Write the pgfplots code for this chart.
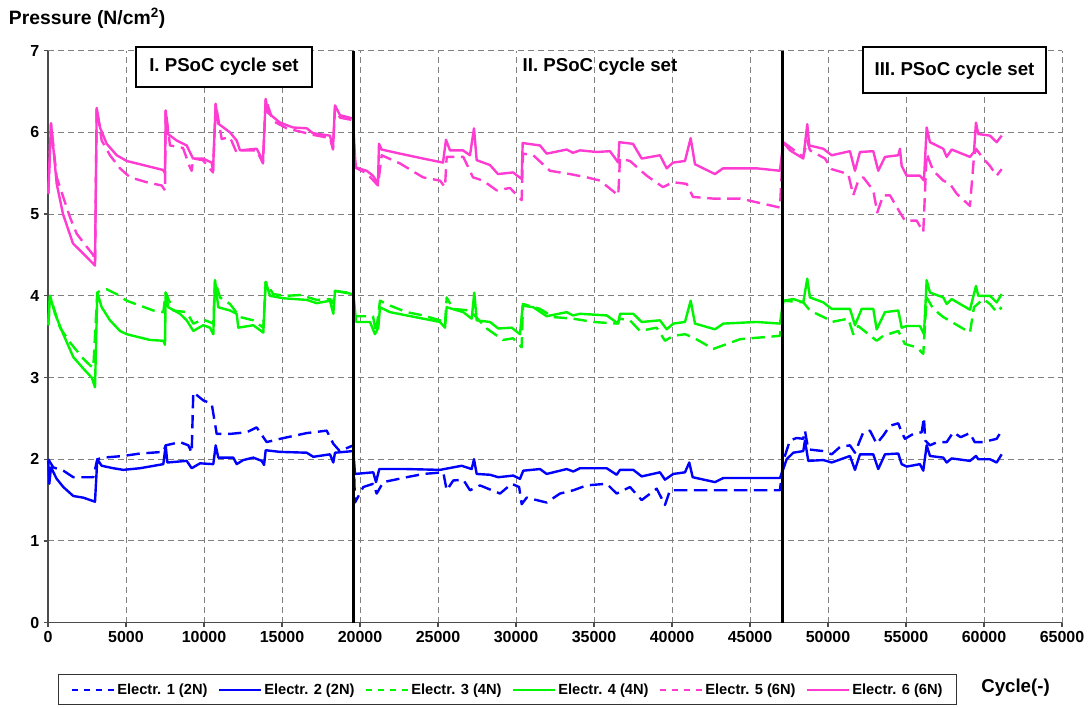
\documentclass[border=0pt]{standalone}
\usepackage{fontspec}
\setmainfont{Liberation Sans}
\usepackage{pgfplots}
\pgfplotsset{compat=1.18}
\definecolor{eblue}{RGB}{0,0,255}
\definecolor{egreen}{RGB}{0,245,0}
\definecolor{epink}{RGB}{255,60,210}
\begin{document}
\begin{tikzpicture}
\path[use as bounding box] (0,0) rectangle (816.75bp,531bp);
\begin{axis}[
 at={(36bp,64bp)}, anchor=south west,
 scale only axis, width=760.5bp, height=429bp,
 xmin=0, xmax=65000, ymin=0, ymax=7,
 xtick={0,5000,...,65000}, ytick={0,1,...,7},
 scaled x ticks=false,
 /pgf/number format/1000 sep={},
 /pgf/number format/assume math mode=true,
 axis lines=left, axis line style={-, draw=black!70, line width=1.2bp},
 tick style={draw=black!70, line width=1bp}, tick align=outside, major tick length=3bp,
 grid=major, grid style={draw=black!50, dash pattern=on 4.5bp off 3bp, line width=0.75bp},
 tick label style={font=\bfseries\fontsize{12bp}{14bp}\selectfont},
 clip=false,
 legend columns=6,
 legend style={at={(0.00986,-0.0906)}, anchor=north west, draw=black!80, line width=0.75bp,
   font=\bfseries\fontsize{11bp}{12.5bp}\selectfont, inner xsep=9bp, inner ysep=5bp,
   /tikz/every even column/.append style={column sep=6bp}, nodes={inner sep=1.5bp}},
 legend image code/.code={\draw[#1, line width=1.6bp] (0bp,0bp) -- (32bp,0bp);},
 every axis plot/.append style={line width=1.8bp, line join=round},
]
% Electr. 1 (2N) blue dashed
\addplot[eblue, dash pattern=on 10bp off 5bp, forget plot] coordinates {
(19,2.00) (340,1.90) (981,1.86) (1622,1.78) (2904,1.78) (3160,2.00) (3545,2.02) (4827,2.04) (5897,2.07) (7391,2.09) (7545,2.17) (8461,2.21) (8993,2.17) (9211,2.08) (9314,2.82) (9955,2.72) (10493,2.68) (10814,2.31) (11666,2.31) (12737,2.33) (13378,2.39) (13801,2.27) (14019,2.21) (14871,2.25) (16583,2.32) (17865,2.35) (18288,2.19) (18700,2.10) (19570,2.17)
(19679,1.47) (20211,1.66) (20852,1.70) (21070,1.58) (21493,1.72) (22993,1.78) (24057,1.82) (25339,1.84) (25557,1.62) (25980,1.74) (26621,1.75) (27050,1.62) (27691,1.68) (28973,1.58) (29723,1.70) (30200,1.66) (30364,1.45) (30685,1.53) (31967,1.47) (32819,1.58) (33672,1.62) (34531,1.68) (35812,1.70) (36453,1.58) (37306,1.66) (38056,1.50) (39018,1.64) (39550,1.44) (39870,1.62) (46921,1.62)
(47133,1.98) (47562,2.23) (47992,2.26) (48415,2.25) (48524,2.35) (48735,2.12) (49697,2.10) (50235,2.06) (50767,2.15) (51408,2.17) (51729,2.08) (52262,2.33) (52690,2.35) (53120,2.19) (53543,2.29) (53972,2.41) (54505,2.44) (54722,2.33) (54934,2.25) (55466,2.31) (56004,2.33) (56152,2.51) (56230,2.23) (56536,2.17) (57000,2.21) (57607,2.21) (58030,2.33) (58500,2.27) (59100,2.32) (59400,2.21) (59954,2.21) (60383,2.23) (60812,2.25) (61132,2.35)
};
% Electr. 2 (2N) blue solid
\addplot[eblue, forget plot] coordinates {
(19,1.98) (83,1.70) (192,1.90) (558,1.76) (981,1.66) (1622,1.55) (2263,1.53) (3013,1.48) (3160,2.00) (3442,1.92) (4186,1.89) (4827,1.87) (5897,1.89) (7391,1.94) (7545,2.17) (7647,1.96) (8891,1.98) (9211,1.89) (9743,1.95) (10596,1.94) (10750,2.17) (10916,2.02) (11878,2.02) (12096,1.94) (12519,1.99) (13160,2.02) (13698,1.98) (13850,1.93) (13955,2.11) (14871,2.09) (16583,2.08) (17006,2.03) (18076,2.06) (18288,1.96) (18397,2.08) (19570,2.10)
(19679,1.82) (20852,1.84) (21025,1.72) (21236,1.88) (22993,1.88) (25127,1.87) (26518,1.92) (27159,1.88) (27307,2.00) (27480,1.82) (28332,1.81) (28864,1.78) (29826,1.80) (30255,1.76) (30467,1.86) (31537,1.88) (31967,1.82) (33249,1.88) (33672,1.85) (34101,1.89) (35812,1.89) (36453,1.81) (36665,1.87) (37518,1.87) (38056,1.79) (39229,1.84) (39550,1.75) (40082,1.82) (40832,1.84) (41108,1.96) (41325,1.78) (42755,1.72) (43287,1.77) (45428,1.77) (46921,1.77)
(47133,1.88) (47351,2.00) (47774,2.08) (48415,2.10) (48524,2.23) (48735,1.98) (49697,1.99) (50235,1.96) (51408,2.04) (51729,1.87) (52050,2.06) (52902,2.06) (53222,1.88) (53652,2.06) (54505,2.07) (54722,1.94) (55043,1.91) (55895,1.94) (56107,1.86) (56325,2.17) (56536,2.04) (57389,2.02) (57607,1.96) (57927,2.01) (59100,1.98) (59485,2.04) (59633,2.00) (60383,2.00) (60812,1.96) (61132,2.06)
};
% Electr. 3 (4N) green dashed
\addplot[egreen, dash pattern=on 10bp off 5bp, forget plot] coordinates {
(19,3.64) (128,4.00) (769,3.61) (1410,3.43) (2263,3.23) (2692,3.15) (2904,3.12) (3160,4.04) (3333,4.06) (3763,4.08) (4404,4.02) (5045,3.94) (5897,3.88) (6750,3.82) (7391,3.80) (7545,4.04) (8032,3.82) (8891,3.80) (9314,3.66) (9955,3.71) (10596,3.66) (10705,4.19) (11025,3.98) (11666,3.90) (12307,3.74) (13160,3.70) (13801,3.61) (13955,4.17) (14442,4.02) (15301,4.00) (16153,4.01) (17224,3.95) (18076,3.96) (18288,3.91) (18397,4.06) (19570,4.03)
(19679,3.75) (20833,3.75) (21025,3.55) (21281,3.94) (21922,3.88) (22993,3.80) (24038,3.76) (25127,3.70) (25448,3.65) (25557,3.98) (25961,3.84) (27050,3.82) (28121,3.60) (29166,3.46) (29807,3.48) (30364,3.37) (30448,3.90) (31537,3.84) (32390,3.74) (33672,3.72) (34954,3.68) (36453,3.66) (36665,3.72) (37306,3.70) (37947,3.57) (39018,3.61) (39550,3.45) (40082,3.51) (40832,3.53) (41364,3.49) (42646,3.35) (44377,3.47) (46921,3.51)
(47133,3.94) (48415,3.92) (48844,3.82) (49915,3.72) (50235,3.68) (51299,3.72) (51620,3.53) (51941,3.63) (53120,3.45) (53543,3.51) (54505,3.57) (54934,3.41) (55684,3.37) (56107,3.29) (56325,3.98) (56748,3.84) (57389,3.74) (57927,3.68) (59100,3.55) (59357,3.86) (59954,3.96) (60383,3.90) (60812,3.80) (61132,3.86)
};
% Electr. 4 (4N) green solid
\addplot[egreen, forget plot] coordinates {
(19,3.64) (128,4.00) (449,3.78) (981,3.53) (1622,3.25) (2263,3.11) (2801,3.00) (3013,2.88) (3160,4.04) (3442,3.86) (3974,3.70) (4615,3.57) (5045,3.53) (5897,3.49) (6538,3.46) (7391,3.45) (7500,3.40) (7545,4.04) (7711,3.86) (8461,3.78) (8891,3.70) (9314,3.57) (9955,3.64) (10384,3.61) (10596,3.53) (10705,4.19) (10916,3.86) (11666,3.82) (12096,3.78) (12199,3.61) (13160,3.64) (13801,3.55) (13955,4.17) (14230,4.00) (15083,3.97) (16583,3.95) (17224,3.91) (18076,3.94) (18288,3.78) (18397,4.06) (19570,4.02)
(19679,3.82) (19743,3.68) (20640,3.68) (20961,3.53) (21172,3.61) (21281,3.86) (21922,3.80) (22993,3.76) (24057,3.72) (25127,3.68) (25448,3.61) (25557,3.86) (26621,3.80) (27159,3.72) (27326,4.04) (27480,3.70) (28332,3.68) (28864,3.60) (29723,3.61) (30255,3.53) (30428,3.88) (31108,3.86) (31967,3.75) (33249,3.80) (33653,3.76) (34101,3.78) (35812,3.76) (36556,3.66) (36665,3.78) (37518,3.78) (38056,3.68) (39229,3.70) (39659,3.59) (40082,3.66) (40832,3.68) (41197,3.94) (41473,3.66) (42755,3.59) (43287,3.66) (45428,3.68) (46921,3.66)
(47133,3.94) (47774,3.96) (48415,3.92) (48671,4.21) (48844,3.98) (49697,3.92) (50235,3.84) (51408,3.84) (51729,3.64) (52159,3.84) (52902,3.84) (53120,3.59) (53652,3.80) (54505,3.82) (54722,3.61) (55043,3.63) (55895,3.63) (56152,3.53) (56325,4.19) (56536,4.04) (57389,3.98) (57607,3.90) (57927,3.96) (59100,3.83) (59485,4.12) (59633,4.00) (60383,4.00) (60812,3.92) (61132,4.02)
};
% Electr. 5 (6N) pink dashed
\addplot[epink, dash pattern=on 10bp off 5bp, forget plot] coordinates {
(19,5.25) (192,6.11) (558,5.45) (1410,4.96) (1840,4.76) (2564,4.58) (2904,4.50) (3013,4.40) (3122,6.30) (3442,5.90) (3974,5.72) (4615,5.56) (5256,5.45) (6327,5.39) (7288,5.35) (7500,5.29) (7545,6.27) (7820,5.84) (8654,5.81) (9102,5.57) (9211,5.53) (9314,5.68) (9936,5.66) (10577,5.51) (10750,6.35) (11134,5.92) (11666,5.94) (12096,5.75) (12307,5.78) (13378,5.78) (13782,5.62) (13955,6.41) (14423,6.14) (15301,6.05) (16153,6.01) (16987,5.97) (18076,5.93) (18269,5.79) (18397,6.30) (18717,6.18) (19551,6.15)
(19679,5.57) (20429,5.50) (21153,5.35) (21390,5.72) (22563,5.62) (24038,5.45) (25127,5.41) (25448,5.33) (25557,5.70) (26621,5.70) (27243,5.45) (27884,5.41) (28762,5.29) (29614,5.32) (30364,5.17) (30448,5.74) (31108,5.72) (32178,5.53) (33460,5.49) (34531,5.45) (35383,5.41) (36556,5.23) (36665,5.68) (37306,5.65) (38377,5.47) (39422,5.33) (40063,5.39) (40941,5.37) (41345,5.21) (42627,5.19) (44377,5.19) (46921,5.08)
(47133,5.88) (48415,5.70) (48671,5.90) (48844,5.78) (49806,5.68) (50235,5.55) (51299,5.49) (51620,5.23) (51941,5.41) (52262,5.45) (52902,5.29) (53158,5.02) (53543,5.23) (53972,5.23) (54613,5.02) (54934,4.92) (55684,4.92) (56107,4.78) (56325,5.74) (56748,5.53) (57389,5.41) (57818,5.37) (58248,5.25) (59100,5.10) (59357,5.70) (59485,5.80) (59954,5.68) (60383,5.59) (60812,5.47) (61132,5.55)
};
% Electr. 6 (6N) pink solid
\addplot[epink, forget plot] coordinates {
(19,5.25) (192,6.11) (558,5.37) (962,5.00) (1603,4.64) (2244,4.52) (3013,4.37) (3122,6.30) (3333,6.06) (3763,5.86) (4404,5.72) (5045,5.65) (5897,5.61) (7372,5.54) (7500,5.50) (7545,6.27) (7692,5.98) (8250,5.90) (8891,5.84) (9295,5.68) (9936,5.68) (10493,5.63) (10577,5.53) (10750,6.35) (10897,6.11) (11666,6.00) (12096,5.90) (12307,5.78) (13378,5.80) (13782,5.65) (13955,6.41) (14102,6.24) (14871,6.12) (15705,6.06) (16583,6.05) (16987,5.99) (18076,5.96) (18269,5.81) (18397,6.33) (18717,6.21) (19551,6.17)
(19679,5.70) (19743,5.57) (20429,5.53) (20833,5.47) (21153,5.37) (21217,5.86) (21390,5.79) (22563,5.74) (24038,5.68) (25320,5.63) (25512,5.91) (25768,5.78) (26602,5.78) (27050,5.72) (27307,6.05) (27480,5.66) (28332,5.60) (28845,5.49) (29807,5.51) (30364,5.43) (30428,5.87) (31537,5.84) (31967,5.74) (33249,5.79) (33653,5.75) (34101,5.78) (35172,5.76) (36024,5.77) (36556,5.63) (36620,5.88) (37499,5.86) (38056,5.68) (39229,5.72) (39659,5.56) (40063,5.63) (40832,5.65) (41197,5.93) (41473,5.61) (42755,5.49) (43268,5.56) (45428,5.56) (46921,5.53)
(47133,5.88) (47562,5.78) (48415,5.68) (48671,6.10) (48799,5.84) (49697,5.80) (50235,5.72) (51408,5.77) (51729,5.53) (52050,5.76) (52902,5.77) (53222,5.53) (53652,5.70) (54505,5.72) (54613,5.80) (54722,5.59) (55043,5.47) (55895,5.47) (56152,5.41) (56325,6.06) (56536,5.88) (57389,5.80) (57607,5.70) (57927,5.79) (59100,5.70) (59357,5.76) (59485,6.12) (59633,5.98) (60383,5.96) (60812,5.88) (61132,5.96)
};
% section separators
\addplot[black, line width=2bp, forget plot] coordinates {(19600,0) (19600,7)};
\addplot[black, line width=2bp, forget plot] coordinates {(47100,0) (47100,7)};
% legend
\addlegendimage{eblue, dash pattern=on 5bp off 4bp}
\addlegendentry{Electr. 1 (2N)}
\addlegendimage{eblue}
\addlegendentry{Electr. 2 (2N)}
\addlegendimage{egreen, dash pattern=on 5bp off 4bp}
\addlegendentry{Electr. 3 (4N)}
\addlegendimage{egreen}
\addlegendentry{Electr. 4 (4N)}
\addlegendimage{epink, dash pattern=on 5bp off 4bp}
\addlegendentry{Electr. 5 (6N)}
\addlegendimage{epink}
\addlegendentry{Electr. 6 (6N)}
% section labels
\node[draw=black, line width=1.5bp, fill=white, minimum width=132bp, minimum height=30bp, inner sep=0pt, font=\bfseries\fontsize{14bp}{16bp}\selectfont] at (axis cs:11281,6.80) {I. PSoC cycle set};
\node[inner sep=0pt, font=\bfseries\fontsize{14bp}{16bp}\selectfont] at (axis cs:35383,6.81) {II. PSoC cycle set};
\node[draw=black, line width=1.5bp, fill=white, minimum width=137bp, minimum height=34.5bp, inner sep=0pt, font=\bfseries\fontsize{14bp}{16bp}\selectfont] at (axis cs:58107,6.76) {III. PSoC cycle set};
\end{axis}
\node[anchor=west, inner sep=0pt, font=\bfseries\fontsize{14.5bp}{16bp}\selectfont] at (6.5bp,517bp) {Pressure (N/cm\textsuperscript{2})};
\node[anchor=west, inner sep=0pt, font=\bfseries\fontsize{14bp}{16bp}\selectfont] at (735.75bp,15bp) {Cycle(-)};
\end{tikzpicture}
\end{document}
